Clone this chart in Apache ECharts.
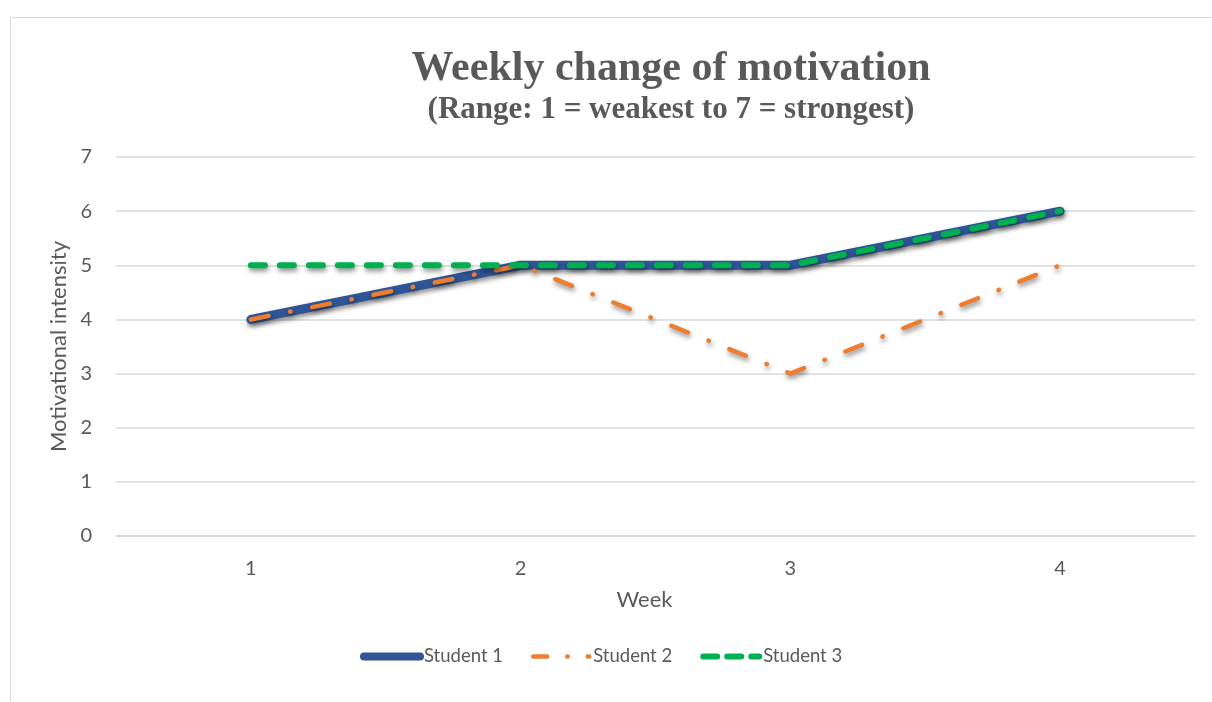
<!DOCTYPE html>
<html>
<head>
<meta charset="utf-8">
<script src="https://cdn.jsdelivr.net/npm/echarts@6/dist/echarts.min.js"></script>
<style>
  html, body { margin: 0; padding: 0; background: #fff; }
  #wrap { position: relative; width: 1212px; height: 702px; overflow: hidden; }
  #frame { position: absolute; left: 10px; top: 17px; width: 1300px; height: 800px; border: 1px solid #d9d9d9; }
  #chart { position: absolute; left: 0; top: 0; width: 1212px; height: 702px; }
</style>
</head>
<body>
<div id="wrap">
  <div id="frame"></div>
  <div id="chart"></div>
</div>
<script>
// week labels on the x axis
const weeks = ['1', '2', '3', '4']
// motivation scores per student
const student1 = [4, 5, 5, 6]
const student2 = [4, 5, 3, 5]
const student3 = [5, 5, 5, 6]

const textColor = '#595959'
const shadow = { shadowColor: 'rgba(0,0,0,0.45)', shadowBlur: 5, shadowOffsetX: 1, shadowOffsetY: 3 }

const s1Line = { color: '#2F5597', width: 9, cap: 'round', join: 'round' }
const s2Line = { color: '#ED7D31', width: 4.5, cap: 'round', type: [18, 22, 0.5, 22] }
const s3Line = { color: '#00B050', width: 6, cap: 'round', type: [14, 15] }

const myChart = echarts.init(document.getElementById('chart'))
myChart.setOption({
  animation: false,
  title: [
    {
      text: 'Weekly change of motivation',
      left: 666, top: 43, textAlign: 'center',
      textStyle: { fontFamily: 'Liberation Serif', fontWeight: 'bold', fontSize: 42, color: textColor }
    },
    {
      text: '(Range: 1 = weakest to 7 = strongest)',
      left: 666, top: 89, textAlign: 'center',
      textStyle: { fontFamily: 'Liberation Serif', fontWeight: 'bold', fontSize: 31, color: textColor }
    }
  ],
  grid: { left: 116, right: 17, top: 157, bottom: 166 },
  legend: {
    left: 355, top: 642,
    itemWidth: 56, itemHeight: 14, itemGap: 28,
    textStyle: { fontFamily: 'Lato', fontSize: 18.5, color: textColor, padding: [0, 0, 0, -1] },
    data: [
      { name: 'Student 1', itemStyle: { opacity: 0 }, lineStyle: { width: 8, cap: 'round' } },
      { name: 'Student 2', itemStyle: { opacity: 0 }, lineStyle: { width: 4.5, cap: 'round', type: [14, 20, 0.5, 20] } },
      { name: 'Student 3', itemStyle: { opacity: 0 }, lineStyle: { width: 6, cap: 'round', type: [14, 10] } }
    ]
  },
  xAxis: {
    type: 'category',
    data: weeks,
    name: 'Week',
    nameLocation: 'middle',
    nameGap: 53,
    nameTextStyle: { fontFamily: 'Lato', fontSize: 22, color: textColor, padding: [0, 22, 0, 0] },
    axisLine: { lineStyle: { color: '#d9d9d9', width: 1.5 } },
    axisTick: { show: false },
    axisLabel: { margin: 23, fontFamily: 'Lato', fontSize: 20, color: textColor }
  },
  yAxis: {
    type: 'value',
    min: 0, max: 7, interval: 1,
    name: 'Motivational intensity',
    nameLocation: 'middle',
    nameGap: 46,
    nameTextStyle: { fontFamily: 'Lato', fontSize: 22, color: textColor },
    axisLabel: { margin: 24, fontFamily: 'Lato', fontSize: 20, color: textColor },
    splitLine: { lineStyle: { color: '#d9d9d9', width: 1.5 } }
  },
  series: [
    {
      name: 'Student 1', type: 'line', data: student1, symbol: 'none',
      itemStyle: { color: '#2F5597' },
      lineStyle: Object.assign({}, s1Line, shadow)
    },
    {
      name: 'Student 2', type: 'line', data: student2, symbol: 'none',
      itemStyle: { color: '#ED7D31' },
      lineStyle: Object.assign({}, s2Line, shadow)
    },
    {
      name: 'Student 3', type: 'line', data: student3, symbol: 'none',
      itemStyle: { color: '#00B050' },
      lineStyle: Object.assign({}, s3Line, shadow)
    }
  ]
})
</script>
</body>
</html>
